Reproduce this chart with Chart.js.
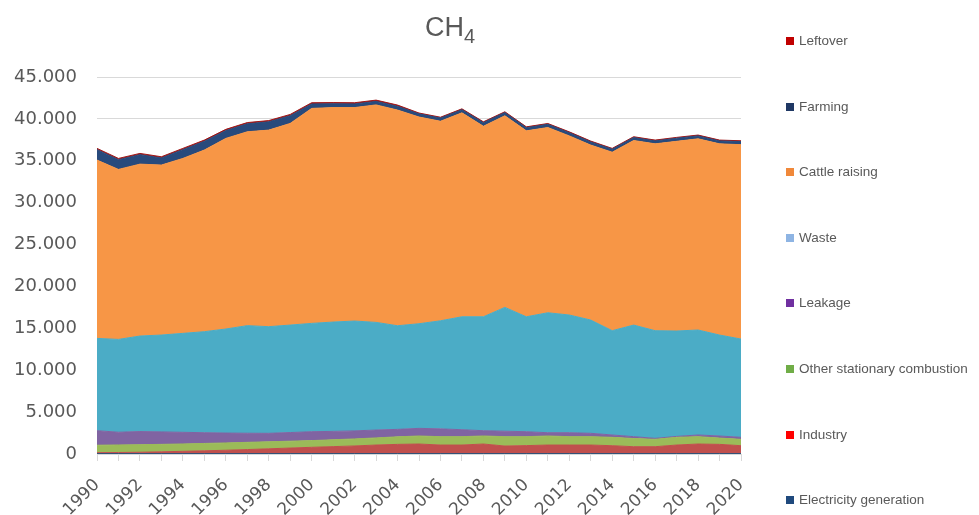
<!DOCTYPE html>
<html>
<head>
<meta charset="utf-8">
<title>CH4</title>
<script src="https://cdn.jsdelivr.net/npm/chart.js@4.4.1/dist/chart.umd.min.js"></script>
<style>
  html, body { margin: 0; padding: 0; background: #ffffff; }
  #wrap { position: relative; width: 979px; height: 515px; overflow: hidden; }
  #c { position: absolute; left: 0; top: 0; }
  #title {
    position: absolute; left: 425px; top: 14px;
    font-family: "Liberation Sans", Arial, sans-serif; font-size: 27px; line-height: 27px;
    color: #595959; white-space: nowrap;
  }
  #title span { font-size: 20px; position: relative; top: 7px; }
  .item {
    position: absolute; left: 786px; height: 16px; line-height: 16px;
    font-family: "Liberation Sans", Arial, sans-serif; font-size: 13.5px; color: #595959;
    white-space: nowrap;
  }
  .sw { display: inline-block; width: 8px; height: 8px; margin-right: 5px; vertical-align: 0px; }
</style>
</head>
<body>
<div id="wrap">
  <canvas id="c" width="979" height="515"></canvas>
  <div id="title">CH<span>4</span></div>
  <div id="legend"></div>
</div>
<script>
// Methane emissions by source, 1990-2020
const years = ['1990','1991','1992','1993','1994','1995','1996','1997','1998','1999',
               '2000','2001','2002','2003','2004','2005','2006','2007','2008','2009',
               '2010','2011','2012','2013','2014','2015','2016','2017','2018','2019','2020'];

const electricity = [40,40,40,40,40,40,40,40,40,40,40,40,40,40,40,40,40,40,40,40,40,40,40,40,40,40,40,40,40,40,40];
const industry    = [120,140,170,220,280,340,410,490,580,670,760,840,920,1030,1110,1150,1030,1030,1150,910,960,1030,1030,1030,950,830,830,1030,1150,1110,950];
const otherStationary = [890,900,900,890,880,880,870,860,840,820,800,820,840,850,900,960,1000,1000,960,1120,1070,1080,1000,1000,1000,980,880,920,880,750,760];
const leakage     = [1730,1520,1570,1490,1390,1280,1180,1090,1010,1030,1060,1000,960,940,890,910,930,830,630,650,590,390,470,400,280,220,120,110,200,250,240];
const waste       = [11020,11080,11400,11560,11810,12060,12420,12840,12730,12830,12930,13050,13110,12850,12370,12490,12900,13480,13600,14780,13720,14320,14050,13520,12450,13320,12850,12580,12530,12050,11730];
const cattle      = [21280,20290,20520,20290,20880,21680,22750,23140,23460,24070,25660,25600,25480,25960,25740,24670,23820,24340,22740,22870,22190,22110,21380,20880,21300,22030,22300,22640,22820,22820,23200];
const farming     = [1250,1160,1130,840,1050,1040,930,950,990,920,530,450,430,420,450,380,380,380,430,380,380,380,380,380,360,350,350,370,350,350,370];
const leftover    = [150,150,150,150,150,150,150,150,150,150,150,150,150,150,150,100,100,100,100,100,100,100,100,100,100,100,100,100,100,100,100];

// Series from the bottom of the stack to the top
const seriesNames  = ['Electricity generation','Industry','Other stationary combustion','Leakage','Waste','Cattle raising','Farming','Leftover'];
const seriesValues = [electricity, industry, otherStationary, leakage, waste, cattle, farming, leftover];
const areaColors   = ['#1F4E79','#C0504D','#9BBB59','#8064A2','#4BACC6','#F79646','#284A7C','#A01818'];
const swatchColors = ['#1F497D','#FF0000','#70AD47','#7030A0','#8EB4E3','#F0883A','#1F3864','#C00000'];

const thousands = v => String(v).replace(/\B(?=(\d{3})+(?!\d))/g, '.');

const datasets = seriesNames.map((name, i) => ({
  label: name,
  data: seriesValues[i],
  backgroundColor: areaColors[i],
  borderColor: areaColors[i],
  borderWidth: 1,
  pointRadius: 0,
  tension: 0,
  fill: i === 0 ? 'origin' : '-1'
}));

const yFont = { family: 'DejaVu Sans', size: 18 };
const xFont = { family: 'DejaVu Sans', size: 17 };

new Chart(document.getElementById('c'), {
  type: 'line',
  data: { labels: years, datasets },
  options: {
    responsive: false,
    animation: false,
    layout: { padding: { top: 77, right: 238, left: 0, bottom: 0 } },
    plugins: {
      legend: { display: false },
      title: { display: false },
      tooltip: { enabled: false }
    },
    scales: {
      x: {
        offset: false,
        grid: { drawOnChartArea: false, tickLength: 7, color: '#D9D9D9' },
        border: { color: '#D9D9D9' },
        ticks: {
          autoSkip: false, maxRotation: 45, minRotation: 45, padding: 14,
          color: '#595959', font: xFont,
          callback: (v, i) => (i % 2 === 0 ? years[i] : '')
        },
        afterFit: s => { s.height = 61; }
      },
      y: {
        stacked: true, min: 0, max: 45000,
        grid: { color: '#D9D9D9', drawTicks: false },
        border: { display: false },
        ticks: { stepSize: 5000, padding: 20, color: '#595959', font: yFont, callback: v => thousands(v) },
        afterFit: s => { s.width = 97; }
      }
    }
  }
});

// Legend column on the right, top entry is the top of the stack
const legend = document.getElementById('legend');
for (let k = 0; k < seriesNames.length; k++) {
  const i = seriesNames.length - 1 - k;
  const item = document.createElement('div');
  item.className = 'item';
  item.style.top = (41 + k * 65.6 - 8) + 'px';
  const sw = document.createElement('span');
  sw.className = 'sw';
  sw.style.background = swatchColors[i];
  item.appendChild(sw);
  item.appendChild(document.createTextNode(seriesNames[i]));
  legend.appendChild(item);
}
</script>
</body>
</html>
